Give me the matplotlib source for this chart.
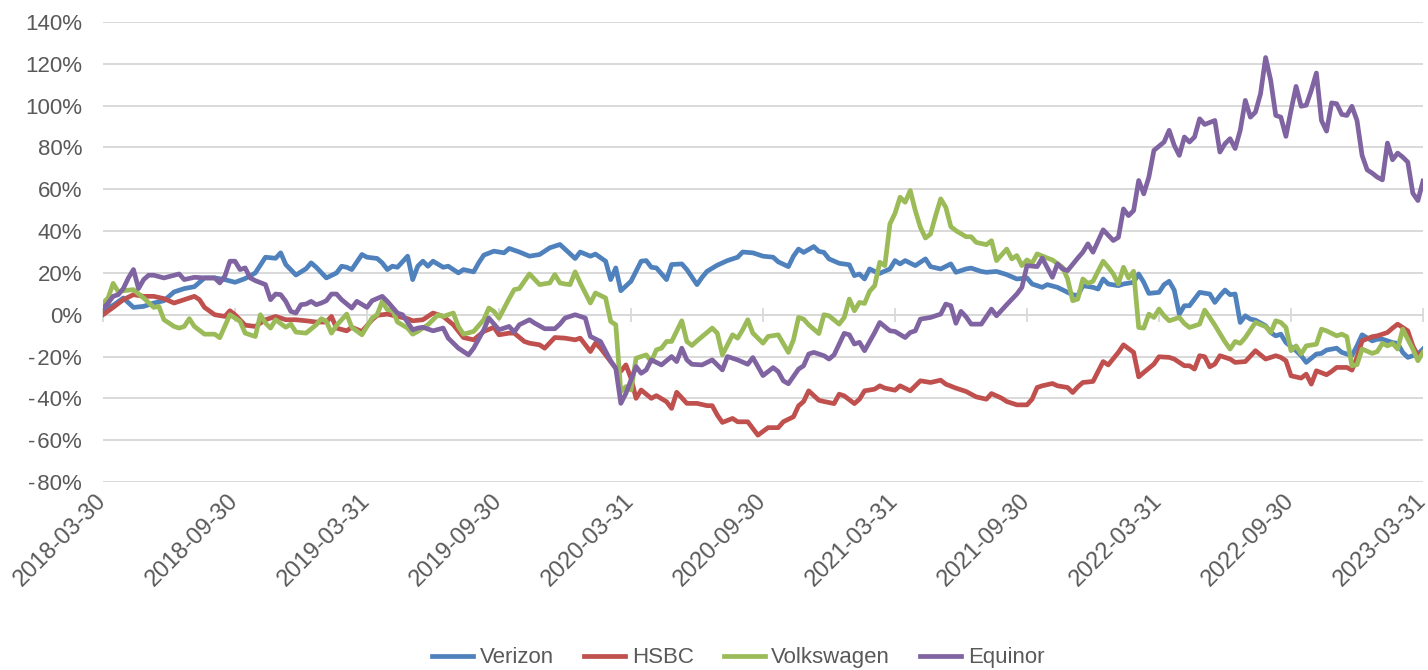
import matplotlib
matplotlib.use("Agg")
import matplotlib.pyplot as plt
from matplotlib.ticker import FuncFormatter

plt.rcParams["font.family"] = ["Liberation Sans Narrow", "Liberation Sans", "DejaVu Sans"]

# weekly observations, x = week number since 2018-03-30, y = cumulative return in %
verizon_weeks = [0, 2, 4, 6, 8, 10, 12, 14, 16, 18, 20, 22, 24, 26, 28, 30, 32, 34, 35, 36, 38, 40, 41, 42, 44,
                 46, 47, 48, 49, 51, 52, 54, 55, 56, 57, 58, 60, 61, 62, 63, 64, 65, 67, 68, 70, 71, 73, 74, 75,
                 77, 79, 80, 82, 84, 86, 88, 90, 93, 94, 96, 97, 99, 100, 101, 102, 104, 106, 107, 108, 109, 111,
                 112, 114, 115, 117, 118, 119, 121, 123, 125, 126, 128, 130, 132, 133, 135, 136, 137, 138, 140,
                 141, 142, 143, 145, 147, 148, 149, 150, 151, 152, 153, 155, 156, 157, 158, 160, 162, 163, 165,
                 167, 168, 170, 171, 173, 174, 176, 178, 180, 182, 183, 185, 186, 188, 190, 191, 192, 193, 195,
                 196, 197, 198, 200, 201, 203, 204, 205, 206, 208, 209, 210, 211, 212, 213, 214, 216, 218, 219,
                 220, 221, 222, 223, 224, 225, 226, 227, 229, 230, 231, 232, 233, 235, 236, 237, 239, 240, 241,
                 243, 244, 246, 247, 248, 250, 251, 252, 254, 255, 256, 257, 259, 260]
verizon = [2.4, 4.5, 8, 3.5, 4, 5.6, 6.7, 10.9, 12.5, 13.4, 17.6, 17.6, 16.8, 15.5, 17.3, 20, 27.5, 27, 29.6, 24,
           19, 22, 24.8, 22.7, 17.6, 20, 23.2, 22.7, 21.6, 28.8, 27.5, 26.9, 24.8, 21.6, 23.2, 22.7, 28, 16.8,
           23.2, 25.6, 23.2, 25.6, 22.7, 23.2, 20, 21.6, 20.5, 24.8, 28.5, 30.4, 29.6, 31.7, 30, 28, 28.8, 32,
           33.6, 26.9, 30, 28, 29, 25.6, 16.8, 22.4, 11.5, 16, 25.6, 25.9, 22.7, 22.4, 16.8, 24, 24.3, 21.6,
           14.4, 17.9, 20.8, 23.7, 25.9, 27.5, 30, 29.6, 28, 27.5, 25.3, 23, 28, 31.4, 29.8, 32.6, 30.3, 29.8,
           26.7, 24.6, 23.9, 18.7, 19.5, 17.1, 21.9, 20.7, 19.8, 21.9, 25.9, 24.3, 25.9, 23.5, 26.7, 23, 21.9,
           24.3, 20.3, 21.9, 22.3, 20.7, 20.3, 20.7, 19.2, 17.1, 17.6, 14.7, 13.1, 14.4, 13.1, 10.7, 9.6, 9.1,
           13.9, 13.1, 12.3, 17.1, 14.7, 13.9, 14.7, 15.5, 19.5, 15.5, 10.2, 10.7, 14.4, 16, 11.8, 0.3, 4.3,
           4.3, 10.7, 9.9, 5.9, 9.1, 11.8, 9.6, 9.9, -3.7, -0.5, -2.1, -2.6, -5.3, -8.5, -10.1, -9.3, -13.3,
           -17.2, -19.6, -22.8, -18.8, -18.5, -16.9, -16, -18, -19.6, -14.9, -9.6, -12.5, -11.7, -11.7, -13.3,
           -13.7, -18, -20.4, -18.8, -16.4]

hsbc_weeks = [0, 2, 4, 6, 8, 10, 12, 14, 16, 18, 19, 20, 22, 24, 25, 26, 28, 30, 32, 34, 36, 38, 40, 42, 44, 45,
              46, 48, 49, 51, 53, 54, 56, 58, 60, 61, 63, 65, 67, 69, 71, 73, 75, 77, 78, 80, 81, 83, 84, 86, 87,
              89, 91, 93, 94, 96, 97, 98, 100, 101, 102, 103, 104, 105, 106, 108, 109, 111, 112, 113, 115, 117,
              119, 120, 121, 122, 124, 125, 127, 128, 129, 131, 133, 134, 136, 137, 138, 139, 141, 142, 144, 145,
              146, 148, 149, 150, 152, 153, 154, 156, 157, 159, 161, 163, 165, 166, 168, 170, 172, 174, 175, 177,
              178, 180, 182, 183, 184, 185, 187, 188, 190, 191, 192, 193, 195, 197, 198, 200, 201, 203, 204, 205,
              207, 208, 210, 211, 213, 214, 215, 216, 217, 218, 219, 220, 222, 223, 225, 227, 229, 231, 232, 233,
              234, 236, 237, 238, 239, 241, 242, 243, 245, 246, 247, 248, 250, 251, 253, 254, 255, 257, 258, 259,
              260]
hsbc = [0, 3.5, 7.2, 9.6, 8.8, 8.8, 7.7, 5.6, 7.2, 8.8, 7.2, 3.5, 0, -0.8, 1.9, 0, -5, -5.6, -2.4, -0.8, -2.4,
        -2.4, -2.9, -3.5, -3.5, -0.8, -6.4, -7.7, -6, -8, -2.4, -0.3, 0.3, -0.8, -1.9, -2.9, -2.4, 0.8, -0.8,
        -4.8, -10.9, -12, -8, -6, -9.6, -8.8, -8.8, -12.8, -13.6, -14.4, -16, -10.9, -11.2, -12, -11.2, -17.6,
        -13.6, -16, -22.4, -25.6, -27, -24, -30.4, -40, -36, -40, -38.7, -41.6, -44.8, -37.1, -42.4, -42.4,
        -43.5, -43.5, -48, -51.5, -49.6, -51.2, -51.2, -54.4, -57.6, -54, -54, -51.2, -48.8, -43.6, -41.5,
        -36.4, -40.9, -41.5, -42.5, -38, -38.8, -42.5, -40.4, -36.4, -35.6, -34, -35.1, -36.1, -34, -36.4,
        -31.6, -32.4, -31.3, -33.2, -35.1, -36.7, -39.3, -40.4, -37.7, -39.9, -41.5, -43.1, -43.1, -40.4,
        -34.8, -34, -32.9, -34, -34.8, -37.2, -34.5, -32.4, -31.9, -22.4, -24, -18, -14.4, -18, -29.7, -27.6,
        -23.6, -20.1, -20.4, -21.2, -24.4, -24.4, -26, -19.6, -20.1, -24.9, -23.6, -19.6, -21.2, -22.8, -22.4,
        -17.2, -21.2, -19.6, -20.4, -22, -29.2, -30.3, -28.4, -33.2, -26.8, -28.7, -27.1, -25.2, -25.2, -26.5,
        -20.4, -12.5, -10.5, -10.1, -8.5, -6.4, -4.5, -7.7, -14.9, -19.6, -18]

volkswagen_weeks = [0, 1, 2, 3, 4, 6, 8, 10, 11, 12, 14, 15, 16, 17, 18, 20, 22, 23, 25, 26, 27, 28, 30, 31, 32,
                    33, 34, 36, 37, 38, 40, 42, 43, 44, 45, 46, 48, 49, 51, 53, 54, 55, 56, 57, 58, 60, 61, 62,
                    64, 66, 67, 69, 70, 71, 73, 75, 76, 77, 78, 80, 81, 82, 84, 86, 88, 89, 90, 91, 92, 93, 94,
                    96, 97, 99, 100, 101, 102, 103, 104, 105, 107, 108, 109, 110, 111, 112, 114, 115, 116, 117,
                    120, 121, 122, 124, 125, 126, 127, 128, 130, 131, 133, 135, 136, 137, 138, 139, 141, 142, 143,
                    145, 146, 147, 148, 149, 150, 151, 152, 153, 154, 155, 156, 157, 158, 159, 160, 161, 162, 163,
                    164, 165, 166, 167, 168, 170, 171, 172, 174, 175, 176, 178, 179, 180, 181, 182, 183, 184, 186,
                    187, 189, 190, 191, 192, 193, 194, 195, 197, 198, 199, 200, 201, 202, 203, 204, 205, 206, 207,
                    208, 209, 210, 212, 213, 214, 216, 217, 218, 219, 220, 221, 222, 223, 224, 225, 227, 229, 230,
                    231, 232, 233, 234, 235, 236, 237, 239, 240, 241, 243, 244, 245, 246, 247, 248, 250, 251, 252,
                    253, 254, 255, 256, 258, 259, 260]
volkswagen = [5.6, 8, 15, 11, 11.5, 12, 8, 3.5, 4, -2.4, -5.6, -6.4, -5.6, -1.9, -5.6, -9.3, -9.3, -11, 0, -1.6,
              -3.2, -8.8, -10.4, 0, -4, -6.4, -2.4, -6, -4.5, -8.3, -8.8, -4.8, -1.9, -3.2, -8.8, -5.1, 0.3, -6,
              -9.6, -1.6, 0, 6.4, 2.4, 2.4, -3.5, -6.4, -9.3, -8, -4.8, 0, -0.8, 0.8, -5.6, -9.3, -8, -2.4, 3.2,
              1.6, -1.6, 7.7, 12, 12.5, 19.5, 14.4, 15.2, 19.2, 15.2, 14.7, 14.4, 20.5, 15.2, 5.6, 10.4, 8, -3.2,
              -4.8, -36.8, -34.4, -36, -20.8, -19.2, -22.4, -16.8, -16, -12.8, -12.8, -2.9, -12.8, -14.7, -12.5,
              -6.4, -8.8, -19.2, -9.6, -11.2, -7.2, -2.4, -8.8, -13.6, -10.4, -9.6, -18, -12, -1.3, -2.1, -4.8,
              -9, 0, -0.5, -4.5, -1.3, 7.5, 1.9, 5.9, 5.4, 11.2, 13.9, 25.1, 23.5, 43.4, 48.5, 56.2, 53.8, 59.4,
              49.8, 41.8, 36.7, 38.6, 47.4, 55.4, 51.4, 42.1, 40.2, 37.3, 37.3, 34.6, 33.5, 35.4, 25.9, 31.4,
              26.7, 28.3, 23.5, 26.2, 24.6, 29.1, 27.1, 26.2, 22.7, 17.1, 6.7, 7.5, 17.1, 15, 16, 25.6, 22.7,
              19.5, 14.7, 22.7, 17.6, 20.8, -6.1, -6.4, 0.3, -1.3, 2.7, -0.5, -2.9, -1.3, -4.2, -6.1, -4.5, 2.2,
              -1.3, -5, -9, -13, -16.4, -12.8, -13.7, -10.9, -3.7, -5.7, -8.5, -2.9, -3.7, -6.1, -17.2, -14.9,
              -18.8, -14.9, -14.1, -6.9, -7.7, -10.1, -9.3, -10.5, -24.4, -23.9, -16.4, -18.5, -17.6, -13.7,
              -14.9, -13.7, -16.4, -6.9, -16.4, -22, -18]

equinor_weeks = [0, 1, 2, 3, 4, 5, 6, 7, 8, 9, 10, 12, 14, 15, 16, 18, 20, 22, 23, 24, 25, 26, 27, 28, 29, 30, 32,
                 33, 34, 35, 36, 37, 38, 39, 40, 41, 42, 43, 44, 45, 46, 47, 49, 50, 52, 53, 55, 56, 58, 59, 61,
                 62, 63, 65, 67, 68, 70, 72, 73, 75, 76, 78, 80, 81, 82, 84, 85, 87, 89, 90, 91, 92, 93, 95, 96,
                 98, 100, 101, 102, 103, 105, 106, 107, 108, 110, 112, 113, 114, 115, 116, 118, 120, 122, 123, 125,
                 127, 128, 130, 132, 133, 134, 135, 137, 138, 139, 140, 142, 143, 144, 146, 147, 148, 149, 150,
                 152, 153, 155, 156, 158, 159, 160, 161, 163, 165, 166, 167, 168, 169, 170, 171, 173, 175, 176,
                 178, 180, 181, 182, 184, 185, 187, 188, 189, 190, 192, 193, 194, 195, 197, 199, 200, 201, 202,
                 203, 204, 205, 206, 207, 209, 210, 211, 212, 213, 214, 215, 216, 217, 219, 220, 221, 222, 223,
                 224, 225, 226, 227, 228, 229, 230, 231, 232, 233, 234, 235, 236, 237, 238, 239, 240, 241, 242,
                 243, 244, 245, 246, 247, 248, 249, 250, 251, 252, 253, 254, 255, 256, 257, 258, 259, 260]
equinor = [2.9, 5.6, 8.8, 9.6, 12.5, 17.6, 21.6, 12.5, 16.8, 18.9, 18.9, 17.6, 18.9, 19.5, 16.8, 17.9, 17.6, 17.6,
           15.2, 18.4, 25.6, 25.6, 21.6, 22.4, 17.6, 16.3, 14.4, 7.2, 9.9, 9.6, 6.4, 1.6, 0.8, 4.8, 5.1, 6.4,
           4.8, 5.6, 6.7, 9.9, 9.9, 7.2, 3.2, 6.4, 3.5, 6.7, 8.8, 6.4, 0.8, 0, -7.2, -6.4, -6, -7.7, -6.4,
           -11.2, -16, -19.2, -16, -7.2, -1.6, -7.2, -5.6, -8.3, -4.8, -2.4, -4, -6.7, -6.7, -4.5, -1.6, -0.8,
           0, -1.6, -10.4, -12.8, -22.1, -25.6, -42.4, -37.6, -24.8, -28, -26.4, -21.6, -24, -20, -22.4, -16,
           -21.6, -23.7, -24, -21.6, -26.4, -20, -21.6, -23.7, -20.5, -29.1, -25.3, -27.2, -31.6, -33, -26,
           -24.4, -18.8, -18, -19.6, -21.2, -19.2, -8.9, -9.6, -14, -13.2, -17.2, -8.5, -3.7, -7.7, -8, -10.9,
           -8.5, -7.7, -2.1, -1.3, 0.3, 5.1, 4.3, -4.1, 1.6, -1, -4.5, -4.5, 2.7, -0.5, 4.8, 9.9, 13.1, 23.5,
           23, 27.1, 17.9, 24.3, 21.9, 21.1, 27.1, 29.9, 33.9, 29.9, 40.6, 35.5, 37, 50.6, 47.4, 49.8, 64.2,
           57.8, 65.8, 78.6, 82.6, 88.2, 81, 76.2, 85, 82.6, 85, 93.7, 91, 92.9, 77.8, 81.8, 84.2, 79.5, 88.2,
           102.5, 94.5, 96.9, 105.7, 123, 112.1, 95.3, 94.5, 85.3, 97.7, 109.2, 99.7, 100.2, 107.3, 115.6, 92.9,
           87.8, 101.3, 100.9, 95.8, 95.3, 99.7, 92.9, 76.2, 69.3, 67.7, 65.8, 64.5, 82.1, 74.1, 77.3, 75.4, 73,
           58.1, 54.6, 63.9]

date_labels = ["2018-03-30", "2018-09-30", "2019-03-31", "2019-09-30", "2020-03-31", "2020-09-30",
               "2021-03-31", "2021-09-30", "2022-03-31", "2022-09-30", "2023-03-31"]
label_weeks = [0, 26, 52, 78, 104, 130, 156, 182, 208, 234, 260]

text_color = "#595959"
grid_color = "#D9D9D9"

fig = plt.figure(figsize=(14.28, 6.70), dpi=100)
ax = fig.add_axes([103 / 1428, 188 / 670, 1320 / 1428, 460 / 670])

ax.plot(verizon_weeks, verizon, color="#4F81BD", lw=3.4, label="Verizon", solid_joinstyle="round")
ax.plot(hsbc_weeks, hsbc, color="#C0504D", lw=3.4, label="HSBC", solid_joinstyle="round")
ax.plot(volkswagen_weeks, volkswagen, color="#9BBB59", lw=3.4, label="Volkswagen", solid_joinstyle="round")
ax.plot(equinor_weeks, equinor, color="#8064A2", lw=3.4, label="Equinor", solid_joinstyle="round")

ax.set_xlim(0, 260)
ax.set_ylim(-80, 140)
ax.set_yticks(range(-80, 141, 20))
ax.yaxis.set_major_formatter(FuncFormatter(lambda v, p: f"{v:.0f}%" if v >= 0 else f"-\u200a{-v:.0f}%"))
ax.grid(axis="y", color=grid_color, lw=1.4)
ax.set_axisbelow(True)
for s in ax.spines.values():
    s.set_visible(False)
ax.tick_params(axis="y", length=0, pad=15, labelsize=16, labelcolor=text_color)

ax.set_xticks(label_weeks)
ax.set_xticklabels(date_labels, rotation=45, ha="right", va="center", rotation_mode="anchor")
ax.tick_params(axis="x", length=0, pad=11, labelsize=17, labelcolor=text_color)

# category axis crossing at 0%
zero_line = ax.secondary_xaxis(80 / 220)
zero_line.set_xticks(label_weeks)
zero_line.tick_params(direction="inout", length=10, width=1.3, color=grid_color, labelbottom=False)
zero_line.spines["bottom"].set_color(grid_color)
zero_line.spines["bottom"].set_linewidth(1.4)

fig.legend(loc="center", bbox_to_anchor=(0.517, 0.018), ncol=4, frameon=False, fontsize=16,
           labelcolor=text_color, handlelength=1.85, handletextpad=0.3, columnspacing=1.35)

fig.savefig("out.png", dpi=100)
